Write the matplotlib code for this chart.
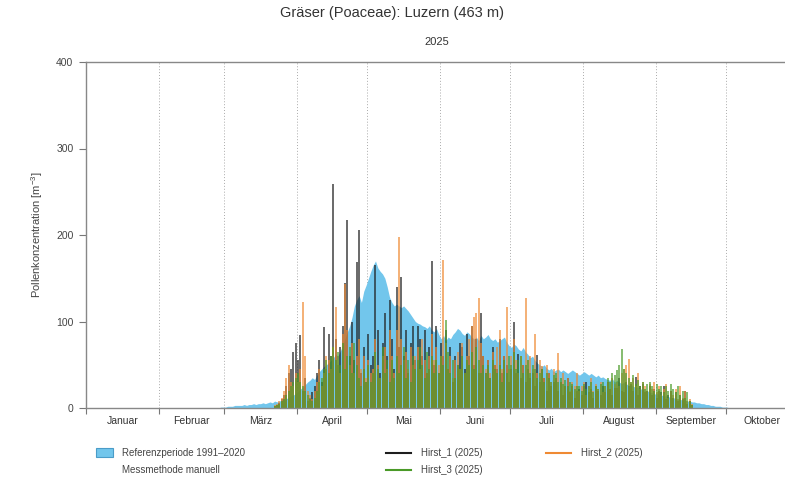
import numpy as np
import matplotlib.pyplot as plt
from matplotlib.patches import Rectangle
from matplotlib.lines import Line2D

plt.rcParams['font.family'] = ['Liberation Sans', 'DejaVu Sans']
plt.rcParams['mathtext.default'] = 'regular'

month_names = ['Januar', 'Februar', 'März', 'April', 'Mai', 'Juni', 'Juli',
               'August', 'September', 'Oktober']
month_starts = [0, 31, 59, 90, 120, 151, 181, 212, 243, 273, 304, 334, 365]

# reference period 1991-2020, daily mean, starting at day-of-year 55
ref_start = 55
reference = [0, 0, 1, 1, 1, 2, 2, 2, 3, 3,
             3, 3, 4, 3, 4, 4, 5, 4, 5, 5,
             6, 5, 6, 7, 6, 8, 7, 8, 9, 10,
             11, 12, 14, 15, 17, 19, 22, 24, 27, 30,
             32, 35, 33, 38, 42, 45, 48, 50, 52, 55,
             58, 62, 60, 66, 72, 80, 88, 95, 105, 118,
             125, 130, 122, 135, 142, 150, 158, 165, 170, 162,
             158, 155, 150, 140, 128, 122, 118, 120, 118, 116,
             118, 115, 112, 108, 104, 100, 98, 97, 95, 94,
             92, 95, 90, 88, 92, 85, 80, 84, 78, 82,
             80, 85, 88, 92, 90, 86, 84, 88, 86, 82,
             80, 82, 78, 84, 80, 82, 85, 80, 78, 80,
             76, 78, 80, 82, 76, 72, 70, 74, 72, 68,
             66, 70, 65, 62, 58, 60, 55, 52, 50, 48,
             50, 46, 44, 46, 42, 44, 45, 42, 44, 42,
             40, 42, 44, 42, 40, 38, 40, 42, 40, 38,
             40, 38, 36, 38, 35, 36, 34, 33, 32, 34,
             30, 32, 30, 28, 30, 28, 26, 27, 25, 24,
             24, 22, 22, 20, 20, 18, 18, 16, 17, 15,
             15, 14, 14, 13, 12, 12, 11, 10, 10, 9,
             9, 8, 8, 7, 7, 6, 6, 5, 5, 4,
             4, 3, 3, 2, 2, 2, 1, 1, 1, 0]

# 2025 daily values, starting at day-of-year 80
hirst_start = 80
hirst_1 = [2, 4, 6, 10, 15, 25, 40, 45, 65, 75,
           55, 84, 20, 35, 8, 12, 18, 25, 40, 55,
           30, 94, 45, 86, 60, 259, 80, 50, 70, 95,
           144, 217, 60, 100, 55, 169, 206, 40, 70, 30,
           85, 50, 60, 165, 90, 40, 75, 110, 60, 125,
           80, 45, 140, 70, 152, 60, 90, 40, 75, 95,
           55, 95, 80, 60, 90, 40, 70, 170, 50, 95,
           40, 75, 60, 90, 45, 70, 30, 60, 50, 75,
           70, 45, 85, 60, 95, 50, 80, 40, 110, 60,
           40, 55, 35, 70, 50, 45, 80, 40, 60, 50,
           30, 45, 100, 40, 62, 35, 50, 30, 45, 35,
           40, 25, 61, 30, 45, 35, 20, 40, 25, 30,
           35, 20, 30, 15, 25, 35, 18, 25, 12, 20,
           22, 15, 25, 30, 18, 22, 12, 25, 20, 15,
           25, 18, 30, 22, 15, 23, 23, 35, 20, 18,
           30, 25, 28, 20, 36, 15, 25, 28, 18, 20,
           25, 15, 22, 12, 20, 18, 25, 10, 15, 20,
           12, 18, 8, 15, 10, 20, 5, 8, 3]
hirst_2 = [3, 5, 8, 12, 20, 35, 50, 30, 25, 40,
           30, 45, 123, 60, 20, 15, 10, 20, 30, 45,
           25, 40, 60, 55, 45, 70, 117, 60, 40, 85,
           143, 90, 50, 75, 40, 60, 80, 45, 60, 35,
           55, 40, 45, 80, 50, 35, 60, 70, 45, 90,
           60, 40, 90, 198, 80, 55, 65, 45, 70, 50,
           60, 70, 45, 80, 55, 40, 60, 85, 55, 70,
           50, 60, 171, 75, 45, 60, 35, 55, 65, 45,
           75, 40, 60, 80, 95, 105, 110, 127, 75, 60,
           45, 55, 40, 65, 50, 70, 90, 45, 60, 117,
           45, 60, 80, 55, 40, 60, 50, 127, 55, 60,
           45, 86, 40, 55, 48, 35, 50, 40, 30, 45,
           35, 64, 30, 40, 25, 35, 20, 30, 25, 40,
           20, 25, 30, 15, 25, 35, 20, 28, 22, 30,
           18, 25, 30, 22, 35, 28, 30, 25, 40, 45,
           50, 57, 30, 35, 25, 40, 22, 30, 25, 20,
           28, 22, 30, 18, 25, 15, 22, 28, 12, 20,
           15, 22, 10, 25, 12, 20, 8, 10, 5]
hirst_3 = [2, 3, 5, 8, 10, 15, 20, 25, 30, 35,
           40, 30, 25, 20, 15, 10, 8, 12, 20, 30,
           35, 45, 55, 40, 60, 70, 55, 65, 50, 75,
           45, 60, 70, 40, 75, 50, 35, 25, 45, 30,
           50, 30, 40, 65, 45, 35, 70, 40, 55, 30,
           55, 35, 60, 40, 50, 70, 35, 55, 30, 60,
           45, 55, 70, 50, 35, 65, 45, 60, 40, 55,
           40, 60, 50, 102, 65, 40, 55, 35, 50, 45,
           60, 40, 55, 50, 65, 45, 70, 55, 40, 50,
           40, 50, 35, 55, 45, 40, 50, 30, 55, 40,
           60, 50, 65, 45, 55, 60, 40, 50, 55, 40,
           50, 45, 35, 40, 45, 30, 40, 35, 30, 38,
           40, 30, 35, 28, 32, 25, 30, 28, 22, 26,
           25, 20, 28, 22, 25, 30, 18, 26, 22, 28,
           30, 25, 35, 30, 40, 38, 44, 50, 68, 45,
           40, 35, 30, 38, 28, 32, 25, 30, 22, 28,
           30, 25, 20, 28, 22, 26, 18, 25, 20, 28,
           22, 18, 25, 15, 20, 12, 18, 8, 4]

ref_color = '#72c6ec'
series = [('Hirst_1 (2025)', hirst_1, '#1e1e1e'),
          ('Hirst_2 (2025)', hirst_2, '#ef8a33'),
          ('Hirst_3 (2025)', hirst_3, '#4a9a28')]

W, H = 785, 484
fig = plt.figure(figsize=(W / 100, H / 100), dpi=100)
px_per_day = 2.344
# axis runs over the whole year, the picture is cut at the right edge
ax = fig.add_axes([86 / W, 76 / H, 365 * px_per_day / W, 346 / H])

ref_days = np.arange(ref_start, ref_start + len(reference)) + 0.5
ax.fill_between(ref_days, reference, color=ref_color, lw=0, zorder=1)

# daily bars, drawn as thick vertical strokes
days = np.arange(hirst_start, hirst_start + len(hirst_1)) + 0.5
for name, vals, col in series:
    ax.vlines(days, 0, vals, colors=col, lw=1.3, alpha=0.72, zorder=2)

ax.vlines(month_starts[1:-1], 0, 400, colors='#aaaaaa', linestyles=(0, (1, 2)),
          lw=0.7, zorder=0)

ax.set_xlim(0, 365)
ax.set_ylim(0, 400)
ax.set_yticks([0, 100, 200, 300, 400])
ax.set_xticks(month_starts)
ax.set_xticklabels([])
mids = [(a + b) / 2 for a, b in zip(month_starts[:10], month_starts[1:11])]
ax.set_xticks(mids, minor=True)
ax.set_xticklabels(month_names, minor=True)
ax.tick_params(axis='x', which='minor', length=0, pad=6, labelsize=7.5, labelcolor='#333333')
ax.tick_params(axis='x', which='major', length=4, color='#777777', width=0.8)
ax.tick_params(axis='y', length=5, color='#777777', width=0.8, labelsize=7.5,
               labelcolor='#444444', pad=4)
for side in ['left', 'bottom', 'top']:
    ax.spines[side].set_color('#888888')
    ax.spines[side].set_linewidth(1.0)
ax.spines['right'].set_visible(False)

ax.set_ylabel('Pollenkonzentration [m$^{-3}$]', fontsize=8, color='#444444', labelpad=8)

fig.text(392 / W, 1 - 13 / H, 'Gräser (Poaceae): Luzern (463 m)', ha='center', va='center',
         fontsize=10.5, color='#333333')
fig.text(437 / W, 1 - 42 / H, '2025', ha='center', va='center', fontsize=8, color='#333333')

# legend below the chart
fig.patches.append(Rectangle((96 / W, 1 - 457 / H), 17 / W, 9 / H, transform=fig.transFigure,
                             facecolor=ref_color, edgecolor='#4a9cc8', lw=0.8))
fig.text(122 / W, 1 - 453 / H, 'Referenzperiode 1991–2020', va='center', fontsize=7, color='#444444')
fig.text(122 / W, 1 - 470 / H, 'Messmethode manuell', va='center', fontsize=7, color='#444444')
legend_pos = [(386, 453), (546, 453), (386, 470)]
for (name, vals, col), (lx, ly) in zip(series, legend_pos):
    fig.lines.append(Line2D([lx / W, (lx + 25) / W], [1 - ly / H, 1 - ly / H],
                            transform=fig.transFigure, color=col, lw=1.5))
    fig.text((lx + 35) / W, 1 - ly / H, name, va='center', fontsize=7, color='#444444')

fig.savefig('out.png', dpi=100)
